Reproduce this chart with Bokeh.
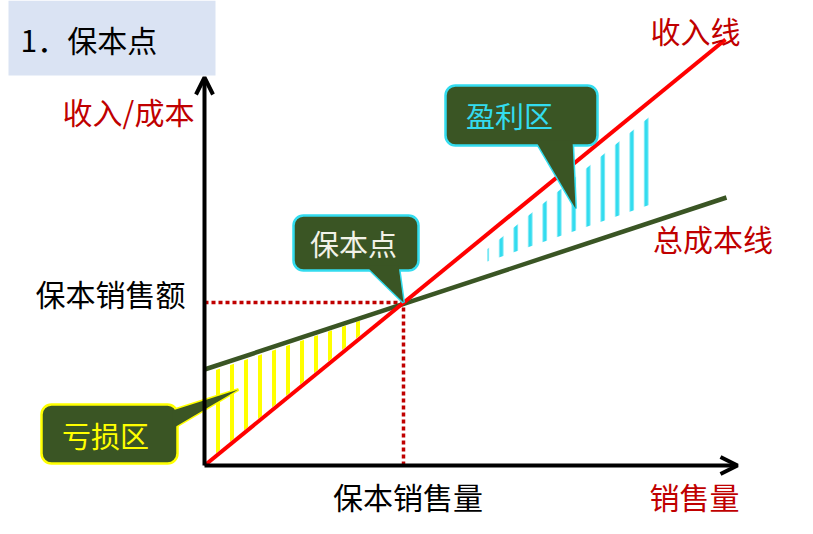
from bokeh.plotting import figure
from bokeh.models import Range1d, Arrow, OpenHead
from bokeh.core.properties import value
from bokeh.embed import file_html
from bokeh.resources import INLINE

# ---- data (sales volume on x, revenue / cost on y, arbitrary units) ----
revenue_x = [0, 10.42]
revenue_y = [0, 8.52]
cost_x = [0, 10.44]
cost_y = [1.92, 5.36]
breakeven_q = 3.98
breakeven_v = 3.26
axis_x_max = 10.66
axis_y_max = 7.76

loss_zone_x = [0.08, 0.08, 3.3, 3.3]
loss_zone_y = [0.12, 1.86, 2.96, 2.76]
profit_zone_x = [5.66, 8.92, 8.92, 5.66]
profit_zone_y = [4.33, 6.99, 5.22, 4.08]

FONT = value("Noto Sans CJK SC")
RED_TXT = "#c00000"
DARK_GREEN = "#3a5524"
CYAN = "#33dcef"
YELLOW = "#ffff00"

p = figure(width=797, height=526, output_backend="svg", toolbar_location=None,
           x_range=Range1d(-4.08, 11.86), y_range=Range1d(-1.22, 9.3),
           x_axis_location=None, y_axis_location=None, min_border=0)
p.grid.visible = False
p.outline_line_color = None
p.background_fill_color = "white"

# title box
p.quad(left=[-3.92], right=[0.22], top=[9.3], bottom=[7.8],
       fill_color="#dae3f3", line_color=None)
p.text(x=[-3.68], y=[8.54], text=["1．保本点"], text_font=FONT, text_font_size="30px",
       text_align="left", text_baseline="middle", text_color="#000000")

# hatched zones
p.patch(loss_zone_x, loss_zone_y, fill_alpha=0, line_color=None,
        hatch_pattern="vertical_line", hatch_color=YELLOW, hatch_weight=4, hatch_scale=14)
p.patch(profit_zone_x, profit_zone_y, fill_alpha=0, line_color=None,
        hatch_pattern="vertical_line", hatch_color=CYAN, hatch_weight=4, hatch_scale=14.5)

# dotted guides to the breakeven point
p.line([0, breakeven_q], [breakeven_v, breakeven_v], line_color="#c00000",
       line_width=3.5, line_dash="4 3")
p.line([breakeven_q, breakeven_q], [0, breakeven_v], line_color="#c00000",
       line_width=3.5, line_dash="4 3")

# lines
p.line(cost_x, cost_y, line_color=DARK_GREEN, line_width=4.5)
p.line(revenue_x, revenue_y, line_color="#ff0000", line_width=4)

# axes with arrows
p.add_layout(Arrow(end=OpenHead(size=17, line_width=4, line_color="black"),
                   x_start=0, y_start=0, x_end=0, y_end=axis_y_max,
                   line_width=4, line_color="black"))
p.add_layout(Arrow(end=OpenHead(size=17, line_width=4, line_color="black"),
                   x_start=0, y_start=0, x_end=axis_x_max, y_end=0,
                   line_width=4, line_color="black"))


def callout(left, right, top, bottom, ptr_x, ptr_y, border, txt_color, label, tx, ty):
    p.patch(ptr_x, ptr_y, fill_color=DARK_GREEN, line_color=border, line_width=3)
    p.quad(left=[left], right=[right], top=[top], bottom=[bottom],
           fill_color=DARK_GREEN, line_color=border, line_width=2.5, border_radius=10)
    p.patch(ptr_x, ptr_y, fill_color=DARK_GREEN, line_color=None)
    p.text(x=[tx], y=[ty], text=[label], text_font=FONT, text_font_size="29px",
           text_align="center", text_baseline="middle", text_color=txt_color)


callout(4.82, 7.86, 7.6, 6.4, [6.62, 7.36, 7.42], [6.5, 6.5, 5.14], CYAN, CYAN,
        "盈利区", 6.1, 7.02)
callout(1.78, 4.28, 5.0, 3.9, [3.22, 3.88, breakeven_q], [4.0, 4.0, breakeven_v], CYAN,
        "#f2f2e8", "保本点", 2.98, 4.46)
callout(-3.26, -0.54, 1.22, 0.04, [-0.64, -0.64, 0.68], [1.1, 0.74, 1.52], YELLOW, YELLOW,
        "亏损区", -1.98, 0.62)

# labels
p.text(x=[-1.52], y=[7.09], text=["收入/成本"], text_font=FONT, text_font_size="30px",
       text_align="center", text_baseline="middle", text_color=RED_TXT)
p.text(x=[9.82], y=[8.71], text=["收入线"], text_font=FONT, text_font_size="30px",
       text_align="center", text_baseline="middle", text_color=RED_TXT)
p.text(x=[10.17], y=[4.55], text=["总成本线"], text_font=FONT, text_font_size="30px",
       text_align="center", text_baseline="middle", text_color=RED_TXT)
p.text(x=[-1.88], y=[3.45], text=["保本销售额"], text_font=FONT, text_font_size="30px",
       text_align="center", text_baseline="middle", text_color="#000000")
p.text(x=[4.07], y=[-0.61], text=["保本销售量"], text_font=FONT, text_font_size="30px",
       text_align="center", text_baseline="middle", text_color="#000000")
p.text(x=[9.8], y=[-0.61], text=["销售量"], text_font=FONT, text_font_size="30px",
       text_align="center", text_baseline="middle", text_color=RED_TXT)

open("out.html", "w").write(file_html(p, INLINE))
